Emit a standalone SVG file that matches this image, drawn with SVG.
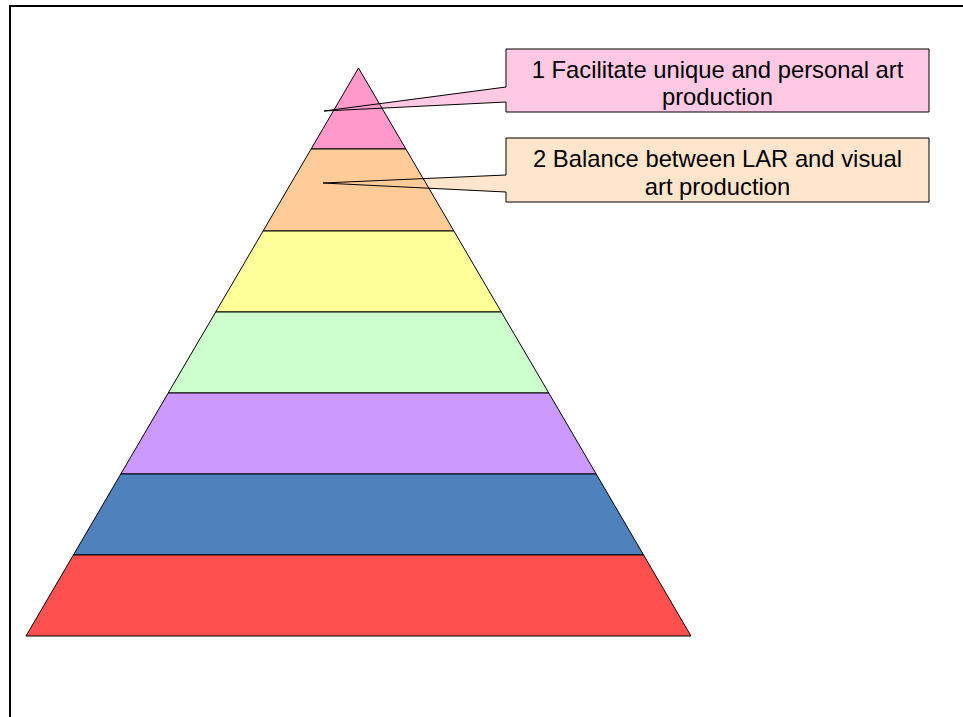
<svg xmlns="http://www.w3.org/2000/svg" width="963" height="717" viewBox="0 0 963 717">
<style>
.band{stroke:#000;stroke-width:1;stroke-linejoin:round}
.co{stroke:none}
.coline{fill:none;stroke:#000;stroke-width:1}
.box{fill:none;stroke:#000;stroke-width:1}
.lbl{font-family:"Liberation Sans",Arial,sans-serif;font-size:23.8px;fill:#000;text-anchor:middle}
</style>
<rect width="963" height="717" fill="#fff"/>
<path d="M10,717 V6 H963" fill="none" stroke="#000" stroke-width="2"/>
<!-- callout fills (behind pyramid) -->
<g id="callout-1-fill">
<polygon class="co" fill="#FFC9E4" points="506,49 929,49 929,112 506,112 506,102 324,111 506,87"/>
</g>
<g id="callout-2-fill">
<polygon class="co" fill="#FFE5CC" points="506,138 929,138 929,202 506,202 506,192 323,183 506,175"/>
</g>
<g id="pyramid">
<g id="level-1"><polygon class="band" fill="#FF99CC" points="358.5,68 405.9,149 311.1,149"/></g>
<g id="level-2"><polygon class="band" fill="#FFCC99" points="311.1,149 405.9,149 453.9,231 263.1,231"/></g>
<g id="level-3"><polygon class="band" fill="#FFFF99" points="263.1,231 453.9,231 501.3,312 215.7,312"/></g>
<g id="level-4"><polygon class="band" fill="#CCFFCC" points="215.7,312 501.3,312 548.8,393 168.2,393"/></g>
<g id="level-5"><polygon class="band" fill="#CC99FF" points="168.2,393 548.8,393 596.2,474 120.8,474"/></g>
<g id="level-6"><polygon class="band" fill="#4F81BD" points="120.8,474 596.2,474 643.6,555 73.4,555"/></g>
<g id="level-7"><polygon class="band" fill="#FF5050" points="73.4,555 643.6,555 691,636 26,636"/></g>
</g>
<g id="connectors">
<polyline class="coline" points="506,102 324,111 506,87"/>
<polyline class="coline" points="506,192 323,183 506,175"/>
</g>
<g id="callout-1">
<polyline class="box" points="506,87 506,49 929,49 929,112 506,112 506,102"/>
<text class="lbl" x="717.5" y="78">1 Facilitate unique and personal art</text>
<text class="lbl" x="717.5" y="105">production</text>
</g>
<g id="callout-2">
<polyline class="box" points="506,175 506,138 929,138 929,202 506,202 506,192"/>
<text class="lbl" x="717.5" y="166.5">2 Balance between LAR and visual</text>
<text class="lbl" x="717.5" y="194.5">art production</text>
</g>
</svg>
